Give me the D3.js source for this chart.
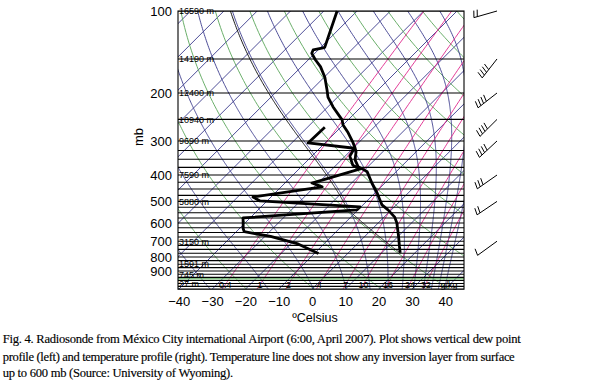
<!DOCTYPE html>
<html><head><meta charset="utf-8">
<script src="https://cdn.jsdelivr.net/npm/d3@7"></script>
<style>body{margin:0;background:#fff}svg{display:block}</style>
</head><body>
<svg id="c" width="592" height="385"></svg>
<script>
// ---------- data ----------
const pressureTicks = [100,200,300,400,500,600,700,800,900];
const tempTicks = [-40,-30,-20,-10,0,10,20,30,40];
const isobarLevels = [100,150,200,250,300,325,350,375,400,425,450,475,500,525,550,575,600,625,650,675,700,725,750,775,800,825,850,875,900,925,950,975,1000,1025,1050];
const heightLevels = [100,150,200,250,300,400,500,700,850,925,1000];
const heightLabels = ["16590 m","14190 m","12400 m","10940 m","9690 m","7590 m","5880 m","3150 m","1591 m","745 m","27 m"];
const isothermValues = [-160,-150,-140,-130,-120,-110,-100,-90,-80,-70,-60,-50,-40,-30,-20,-10,0,10,20,30,40,50];
const dryAdiabatTheta = [230,250,270,290,310,330,350,370,390,410,430,450,470];
const moistThetaE = [240,260,280,300,320,340,360,380,400,420,440,460];
const mixRatios = [0.4,1,2,4,7,10,16,24,32];
const mixLabels = ["0.4","1","2","4","7","10","16","24","32"];
const greenLevel = [962];

const tempP = [100,136,137,139,143,151,160,175,195,207,225,251,262,280,303,316,329,352,373,383,389,428,465,494,515,537,571,600,673,733,773];
const tempT = [-76.0,-68.8,-69.4,-71.5,-70.9,-67.9,-64.3,-59.8,-55.3,-52.9,-48.4,-41.8,-40.0,-36.1,-31.9,-29.8,-28.0,-25.9,-22.9,-20.2,-18.7,-13.9,-9.4,-6.4,-4.3,-1.0,3.2,5.6,10.2,13.5,15.6];
const dewP = [267,305,319,341,368,380,417,428,442,482,498,524,537,575,630,646,672,716,776];
const dewT = [-44.8,-45.1,-29.6,-28.6,-25.0,-21.6,-29.5,-31.9,-27.7,-45.4,-42.1,-10.3,-10.3,-42.1,-38.8,-37.6,-28.3,-17.8,-8.8];

const windP = [100,150,200,250,300,400,500,700];
const windDir = [254,218,232,225,227,235,236,234];
const windSpd = [20,40,40,40,40,30,20,10];

const caption = [
 "Fig. 4. Radiosonde from México City international Airport (6:00, April 2007). Plot shows vertical dew point",
 "profile (left) and temperature profile (right). Temperature line does not show any inversion layer from surface",
 "up to 600 mb (Source: University of Wyoming)."
];

// ---------- layout ----------
const plot = {l:178, r:464, t:11, b:289.2};
const ys = d3.scaleLog().domain([100,1050]).range([plot.t, plot.b]);
const xs = d3.scaleLinear().domain([-40,40]).range([312-133.2, 312+133.2]);
const X = (T,p) => xs(T) + (plot.b - ys(p));

const navy = "#3a3a8c", green = "#5aa65a", magenta = "#e0288c";
const sans = "'Liberation Sans', Arial, sans-serif";
const serif = "'Liberation Serif', 'Times New Roman', serif";

const svg = d3.select("#c");
svg.append("rect").attr("width",592).attr("height",385).attr("fill","#fff");
svg.append("defs").append("clipPath").attr("id","clip")
  .append("rect").attr("x",plot.l).attr("y",plot.t).attr("width",plot.r-plot.l).attr("height",plot.b-plot.t);

const bg = svg.append("g").attr("clip-path","url(#clip)");
const line = d3.line().x(d=>X(d[0],d[1])).y(d=>ys(d[1]));

// thermo helpers
const es = Tc => 6.112*Math.exp(17.67*Tc/(Tc+243.5));
const ws = (Tc,p) => 0.622*es(Tc)/(p-es(Tc));
function moistDTdp(Tk,p){
  const Rd=287.04, cp=1005.7, L=2.501e6, eps=0.622;
  const rs = ws(Tk-273.15,p);
  return ((Rd*Tk + L*rs)/p)/(cp + L*L*rs*eps/(Rd*Tk*Tk));
}
function moistPath(T0,p0,pEnd){
  const pts=[[T0,p0]]; let T=T0+273.15, p=p0; const dp = pEnd<p0?-2:2;
  while((dp<0 && p>pEnd) || (dp>0 && p<pEnd)){
    const k1=moistDTdp(T,p);
    const k2=moistDTdp(T+k1*dp/2,p+dp/2);
    T+=k2*dp; p+=dp; pts.push([T-273.15,p]);
  }
  return pts;
}
function thetaESat(Tc,p){
  const T=Tc+273.15, r=1000*ws(Tc,p);
  return T*Math.pow(1000/p,0.2854*(1-0.00028*r))*Math.exp((3.376/T-0.00254)*r*(1+0.00081*r));
}
function T0forThetaE(te){
  let lo=-90, hi=50;
  for(let i=0;i<50;i++){const m=(lo+hi)/2; if(thetaESat(m,1000)<te) lo=m; else hi=m;}
  return (lo+hi)/2;
}
const pSamples = d3.range(1050,99,-5);

// isotherms
isothermValues.forEach(T=>{
  bg.append("path").attr("d",line([[T,1050],[T,100]])).attr("stroke",navy).attr("stroke-width",0.9).attr("fill","none");
});
// dry adiabats
dryAdiabatTheta.forEach(th=>{
  const pts = pSamples.map(p=>[th*Math.pow(p/1000,0.2857)-273.15,p]);
  bg.append("path").attr("d",line(pts)).attr("stroke",green).attr("stroke-width",0.9).attr("fill","none");
});
// moist adiabats
moistThetaE.forEach(te=>{
  const T0=T0forThetaE(te);
  const up = moistPath(T0,1000,100);
  const down = moistPath(T0,1000,1050).reverse();
  const pts = down.concat(up.slice(1));
  bg.append("path").attr("d",line(pts)).attr("stroke",navy).attr("stroke-width",0.9).attr("fill","none");
});
// mixing ratio lines
mixRatios.forEach(r=>{
  const pts = pSamples.map(p=>{const e=p*r/(622+r); const l=Math.log(e/6.112); return [243.5*l/(17.67-l),p];});
  bg.append("path").attr("d",line(pts)).attr("stroke",magenta).attr("stroke-width",0.9).attr("fill","none");
});
// isobars
isobarLevels.forEach(p=>{
  bg.append("line").attr("x1",plot.l).attr("x2",plot.r).attr("y1",ys(p)).attr("y2",ys(p)).attr("stroke","#000").attr("stroke-width",1.1);
});
greenLevel.forEach(p=>{
  bg.append("line").attr("x1",plot.l).attr("x2",plot.r).attr("y1",ys(p)).attr("y2",ys(p)).attr("stroke",green).attr("stroke-width",1.2);
});

// parcel path from surface
(function(){
  const p0=tempP[tempP.length-1], T0=tempT[tempT.length-1], Td0=dewT[dewT.length-1];
  const r0 = ws(Td0,p0);
  const pts=[]; let p=p0, T=T0;
  while(p>100){
    T=(T0+273.15)*Math.pow(p/p0,0.2857)-273.15;
    pts.push([T,p]);
    if(ws(T,p)<=r0) break;
    p-=1;
  }
  const moist = moistPath(T,p,100).slice(1);
  bg.append("path").attr("d",line(pts.concat(moist))).attr("stroke","#000").attr("stroke-width",0.9).attr("fill","none");
})();

// height labels
const lab = svg.append("g").attr("font-family",sans).attr("font-size",9);
heightLevels.forEach((p,i)=>{
  lab.append("text").attr("x",plot.l+1).attr("y",ys(p)+3.3).text(heightLabels[i]);
});
// mixing ratio labels
mixRatios.forEach((r,i)=>{
  const p=1035; const e=p*r/(622+r); const l=Math.log(e/6.112); const Td=243.5*l/(17.67-l);
  lab.append("text").attr("x",X(Td,p)+2).attr("y",plot.b-1.5).attr("text-anchor","middle").attr("font-size",9).text(mixLabels[i]);
});
lab.append("text").attr("x",449).attr("y",plot.b-1.5).attr("text-anchor","middle").attr("font-size",9).text("g/kg");

// traces
const traceLine = d3.line().x(d=>X(d[1],d[0])).y(d=>ys(d[0]));
svg.append("path").attr("d",traceLine(tempP.map((p,i)=>[p,tempT[i]]))).attr("stroke","#000").attr("stroke-width",2.8).attr("fill","none").attr("stroke-linejoin","round");
svg.append("path").attr("d",traceLine(dewP.map((p,i)=>[p,dewT[i]]))).attr("stroke","#000").attr("stroke-width",2.8).attr("fill","none").attr("stroke-linejoin","round");

// frame
svg.append("rect").attr("x",plot.l).attr("y",plot.t).attr("width",plot.r-plot.l).attr("height",plot.b-plot.t).attr("fill","none").attr("stroke","#000").attr("stroke-width",1.1);

// axes
const yAxis = svg.append("g").attr("transform",`translate(${plot.l},0)`)
  .call(d3.axisLeft(ys).tickValues(pressureTicks).tickFormat(d3.format("d")).tickSize(0).tickPadding(6));
const xAxis = svg.append("g").attr("transform",`translate(0,${plot.b})`)
  .call(d3.axisBottom(xs).tickValues(tempTicks).tickSize(0).tickPadding(8));
[yAxis,xAxis].forEach(a=>{a.select(".domain").remove(); a.selectAll("text").attr("font-family",sans).attr("font-size",13).attr("fill","#000");});

svg.append("text").attr("x",315).attr("y",321.5).attr("text-anchor","middle").attr("font-family",sans).attr("font-size",12.5).text("ºCelsius");
svg.append("text").attr("transform","translate(143,137) rotate(-90)").attr("text-anchor","middle").attr("font-family",sans).attr("font-size",13).text("mb");

// wind barbs (feathers on the right-hand side of the staff, NH convention)
const wb = svg.append("g").attr("stroke","#000").attr("stroke-width",1).attr("fill","none");
windP.forEach((p,i)=>{
  const x0=497, y0=ys(p), a=windDir[i]*Math.PI/180;
  const dx=Math.sin(a), dy=-Math.cos(a), L=24;
  const ex=x0+dx*L, ey=y0+dy*L;
  wb.append("line").attr("x1",x0).attr("y1",y0).attr("x2",ex).attr("y2",ey);
  const fa=Math.atan2(dy,dx)+105*Math.PI/180;
  const fx=Math.cos(fa), fy=Math.sin(fa);
  let s=windSpd[i], k=0;
  while(s>=10){ const bx=ex-dx*k*3.5, by=ey-dy*k*3.5;
    wb.append("line").attr("x1",bx).attr("y1",by).attr("x2",bx+fx*7).attr("y2",by+fy*7); s-=10; k++; }
  if(s>=5){ const bx=ex-dx*k*3.5, by=ey-dy*k*3.5;
    wb.append("line").attr("x1",bx).attr("y1",by).attr("x2",bx+fx*3.5).attr("y2",by+fy*3.5); }
});

// caption
const cap = svg.append("g").attr("font-family",serif).attr("font-size",12.6).attr("fill","#000").attr("stroke","#000").attr("stroke-width",0.15);
const capY=[343.3,360.7,377.3], capW=[518,512,230.5];
caption.forEach((t,i)=>{
  cap.append("text").attr("x",2.7).attr("y",capY[i]).attr("textLength",capW[i]).attr("lengthAdjust","spacing").text(t);
});
</script>
</body></html>
